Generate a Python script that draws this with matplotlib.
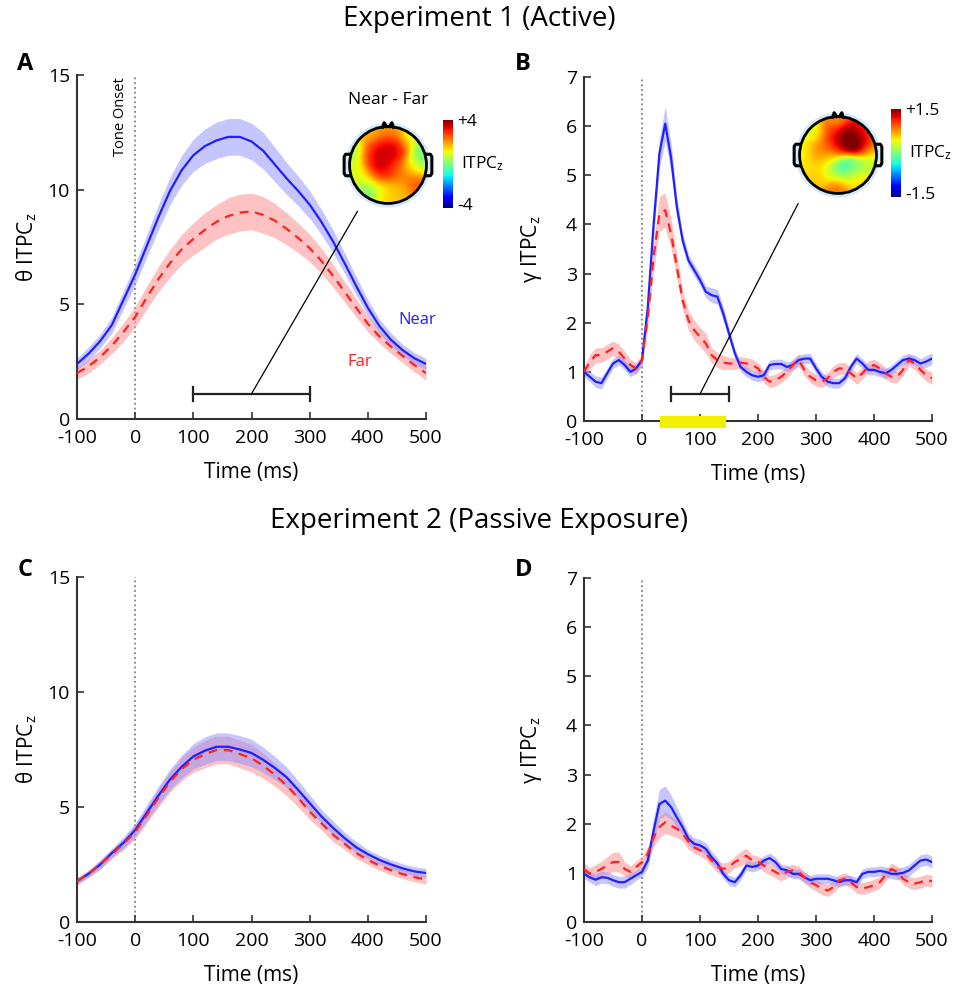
import numpy as np
import matplotlib
matplotlib.use("Agg")
import matplotlib.pyplot as plt
from matplotlib.patches import Circle, Rectangle

plt.rcParams["font.family"] = ["Open Sans", "DejaVu Sans"]
plt.rcParams["mathtext.fontset"] = "custom"
plt.rcParams["mathtext.rm"] = "Open Sans"
plt.rcParams["mathtext.it"] = "Open Sans"
plt.rcParams["axes.unicode_minus"] = False

# ── data ──────────────────────────────────────────────────────────────────────
t_theta = np.arange(-100, 501, 20)
t_gamma = np.arange(-100, 501, 10)

# panel A (theta, active)
a_near = [2.4, 2.85, 3.4, 4.1, 5.2, 6.3, 7.55, 8.8, 9.95, 10.85, 11.5, 11.9, 12.15, 12.3, 12.3, 12.1,
          11.7, 11.1, 10.5, 9.95, 9.35, 8.6, 7.75, 6.8, 5.8, 4.85, 4.05, 3.45, 3.0, 2.65, 2.4]
a_near_sem = [0.25, 0.3, 0.3, 0.35, 0.4, 0.45, 0.5, 0.55, 0.6, 0.65, 0.7, 0.75, 0.8, 0.8, 0.8, 0.8,
              0.8, 0.75, 0.7, 0.65, 0.6, 0.55, 0.5, 0.45, 0.4, 0.35, 0.3, 0.3, 0.25, 0.25, 0.25]
a_far = [2.0, 2.3, 2.7, 3.2, 3.8, 4.45, 5.3, 6.1, 6.8, 7.4, 7.85, 8.25, 8.6, 8.85, 9.0, 9.05,
         8.9, 8.65, 8.3, 7.9, 7.45, 6.9, 6.25, 5.55, 4.85, 4.15, 3.6, 3.15, 2.75, 2.35, 2.0]
a_far_sem = [0.25, 0.3, 0.3, 0.35, 0.4, 0.45, 0.5, 0.55, 0.6, 0.65, 0.7, 0.75, 0.75, 0.8, 0.8, 0.8,
             0.8, 0.75, 0.7, 0.65, 0.6, 0.55, 0.5, 0.45, 0.4, 0.35, 0.3, 0.3, 0.3, 0.3, 0.3]

# panel C (theta, passive)
c_near = [1.77, 2.1, 2.5, 3.0, 3.45, 4.0, 4.75, 5.5, 6.2, 6.75, 7.2, 7.45, 7.62, 7.62, 7.5, 7.35,
          7.05, 6.7, 6.3, 5.75, 5.17, 4.6, 4.1, 3.65, 3.25, 2.95, 2.7, 2.5, 2.33, 2.2, 2.13]
c_near_sem = [0.15, 0.15, 0.2, 0.2, 0.25, 0.3, 0.35, 0.4, 0.45, 0.5, 0.55, 0.6, 0.6, 0.6, 0.6, 0.6,
              0.55, 0.5, 0.45, 0.4, 0.35, 0.3, 0.3, 0.25, 0.25, 0.2, 0.2, 0.2, 0.2, 0.2, 0.2]
c_far = [1.77, 2.1, 2.5, 2.95, 3.4, 3.92, 4.65, 5.4, 6.1, 6.65, 7.06, 7.3, 7.48, 7.48, 7.3, 7.12,
         6.8, 6.4, 5.95, 5.4, 4.8, 4.3, 3.8, 3.4, 3.0, 2.7, 2.45, 2.25, 2.08, 1.95, 1.84]
c_far_sem = [0.15, 0.15, 0.2, 0.2, 0.25, 0.3, 0.35, 0.4, 0.45, 0.5, 0.55, 0.6, 0.6, 0.6, 0.6, 0.6,
             0.55, 0.5, 0.45, 0.4, 0.35, 0.3, 0.3, 0.25, 0.25, 0.2, 0.2, 0.2, 0.2, 0.2, 0.2]

# panel B (gamma, active)
b_near = [1.0, 0.9, 0.8, 0.77, 0.97, 1.17, 1.24, 1.14, 1.0, 1.07,
          1.24, 2.32, 4.0, 5.44, 6.05, 5.37, 4.36, 3.68, 3.27, 3.07,
          2.87, 2.63, 2.56, 2.53, 2.19, 1.78, 1.38, 1.1, 1.0, 0.93,
          0.9, 0.93, 1.14, 1.16, 1.16, 1.1, 1.14, 1.24, 1.27, 1.27,
          1.07, 0.9, 0.8, 0.77, 0.77, 0.87, 1.1, 1.27, 1.17, 1.04,
          1.04, 1.0, 0.97, 1.04, 1.14, 1.24, 1.27, 1.24, 1.17, 1.21, 1.27]
b_near_sem = [0.1, 0.1, 0.12, 0.12, 0.1, 0.1, 0.1, 0.1, 0.1, 0.1,
              0.1, 0.15, 0.25, 0.3, 0.35, 0.3, 0.2, 0.15, 0.12, 0.12,
              0.12, 0.12, 0.15, 0.15, 0.15, 0.12, 0.1, 0.1, 0.1, 0.1,
              0.1, 0.1, 0.1, 0.1, 0.1, 0.1, 0.1, 0.1, 0.1, 0.1,
              0.1, 0.1, 0.1, 0.1, 0.1, 0.1, 0.1, 0.1, 0.1, 0.1,
              0.1, 0.1, 0.1, 0.1, 0.1, 0.1, 0.1, 0.1, 0.1, 0.12, 0.12]
b_far = [1.0, 1.2, 1.34, 1.34, 1.41, 1.48, 1.41, 1.27, 1.14, 1.07,
         1.24, 2.12, 3.34, 4.22, 4.29, 3.81, 3.14, 2.46, 2.05, 1.85,
         1.71, 1.58, 1.34, 1.24, 1.19, 1.17, 1.17, 1.19, 1.17, 1.14,
         1.07, 0.9, 0.8, 0.83, 0.9, 1.0, 1.14, 1.24, 1.04, 0.9,
         0.83, 0.8, 0.87, 1.0, 1.07, 1.07, 0.97, 0.87, 0.97, 1.1,
         1.14, 1.07, 0.97, 0.9, 0.9, 1.04, 1.24, 1.17, 1.04, 0.93, 0.87]
b_far_sem = [0.12, 0.15, 0.15, 0.15, 0.15, 0.15, 0.15, 0.15, 0.12, 0.12,
             0.12, 0.2, 0.3, 0.35, 0.35, 0.3, 0.25, 0.2, 0.2, 0.2,
             0.2, 0.2, 0.15, 0.15, 0.15, 0.12, 0.12, 0.12, 0.12, 0.12,
             0.12, 0.12, 0.12, 0.12, 0.12, 0.12, 0.12, 0.12, 0.12, 0.12,
             0.12, 0.12, 0.12, 0.12, 0.12, 0.12, 0.12, 0.12, 0.12, 0.12,
             0.12, 0.12, 0.12, 0.12, 0.12, 0.12, 0.12, 0.12, 0.12, 0.12, 0.12]

# panel D (gamma, passive)
d_near = [0.98, 0.91, 0.86, 0.91, 0.9, 0.85, 0.81, 0.81, 0.88, 0.95,
          1.02, 1.25, 1.86, 2.4, 2.47, 2.34, 2.13, 1.93, 1.69, 1.59,
          1.56, 1.49, 1.32, 1.19, 0.98, 0.85, 0.81, 0.95, 1.15, 1.12,
          1.15, 1.25, 1.3, 1.22, 1.08, 1.05, 0.98, 0.98, 0.91, 0.85,
          0.88, 0.88, 0.88, 0.85, 0.81, 0.85, 0.85, 0.81, 0.98, 1.02,
          1.02, 1.04, 1.02, 0.98, 0.98, 1.0, 1.05, 1.15, 1.25, 1.27, 1.22]
d_near_sem = [0.1, 0.1, 0.12, 0.12, 0.12, 0.12, 0.12, 0.12, 0.12, 0.1,
              0.1, 0.15, 0.25, 0.3, 0.3, 0.25, 0.2, 0.15, 0.12, 0.12,
              0.12, 0.12, 0.12, 0.12, 0.1, 0.1, 0.1, 0.1, 0.1, 0.1,
              0.1, 0.1, 0.1, 0.1, 0.1, 0.1, 0.1, 0.1, 0.1, 0.1,
              0.1, 0.1, 0.1, 0.1, 0.1, 0.1, 0.1, 0.1, 0.1, 0.1,
              0.1, 0.1, 0.1, 0.1, 0.12, 0.12, 0.12, 0.12, 0.12, 0.12, 0.12]
d_far = [1.08, 0.98, 1.02, 1.08, 1.15, 1.22, 1.22, 1.08, 1.02, 1.12,
         1.22, 1.39, 1.73, 1.93, 2.03, 1.96, 1.9, 1.8, 1.63, 1.52,
         1.46, 1.39, 1.25, 1.13, 1.08, 1.12, 1.22, 1.29, 1.35, 1.25,
         1.22, 1.15, 1.08, 1.02, 0.95, 1.02, 1.05, 1.02, 0.91, 0.81,
         0.75, 0.68, 0.64, 0.71, 0.85, 0.88, 0.81, 0.71, 0.68, 0.71,
         0.75, 0.81, 0.95, 1.08, 1.02, 0.88, 0.81, 0.78, 0.81, 0.85, 0.83]
d_far_sem = [0.12, 0.12, 0.15, 0.15, 0.18, 0.2, 0.2, 0.15, 0.12, 0.12,
             0.12, 0.15, 0.2, 0.22, 0.22, 0.2, 0.18, 0.15, 0.15, 0.12,
             0.12, 0.12, 0.12, 0.12, 0.12, 0.12, 0.12, 0.15, 0.15, 0.12,
             0.12, 0.12, 0.12, 0.12, 0.12, 0.12, 0.12, 0.12, 0.12, 0.12,
             0.12, 0.12, 0.12, 0.12, 0.12, 0.12, 0.12, 0.12, 0.12, 0.12,
             0.12, 0.12, 0.12, 0.12, 0.12, 0.12, 0.12, 0.12, 0.12, 0.12, 0.12]

# topomap electrode values (Near - Far)
topo_a_x = [-0.3, 0.0, 0.3, -0.3, 0.05, -0.3, 0.2, -0.5, 0.0, -0.45, 0.55, 0.85, 0.72, 0.65,
            0.3, -0.85, -0.85, -0.45, -0.65, 0.0, -0.2, 0.45]
topo_a_y = [0.4, 0.45, 0.4, 0.0, 0.05, -0.35, -0.2, 0.2, 0.85, 0.7, 0.65, 0.3, 0.0, -0.45,
            -0.6, 0.3, -0.1, -0.62, -0.35, -0.85, -0.7, -0.1]
topo_a_v = [3.6, 3.5, 3.3, 3.6, 3.4, 3.2, 2.6, 2.9, 2.0, 1.6, 0.9, -0.3, 0.6, 2.6,
            1.6, 0.2, 0.9, -0.7, 1.0, 1.6, 1.2, 1.8]

topo_b_x = [0.3, 0.05, 0.55, 0.3, -0.2, 0.6, 0.8, 0.0, -0.35, -0.6, -0.65, -0.88, -0.25, 0.12,
            0.45, -0.15, 0.3, 0.0, -0.5, 0.55, 0.85, 0.0, -0.75]
topo_b_y = [0.35, 0.4, 0.3, 0.6, 0.55, 0.6, 0.2, 0.15, 0.15, 0.05, 0.55, 0.05, -0.15, -0.31,
            -0.3, -0.4, -0.55, -0.85, -0.55, -0.7, -0.2, 0.9, -0.35]
topo_b_v = [1.9, 1.5, 1.7, 1.4, 1.0, 1.0, 0.7, 1.1, 0.9, 0.8, 0.35, 0.35, 0.5, -0.6,
            0.0, 0.2, 0.3, 0.9, 0.6, 0.6, 0.25, 0.7, 0.5]

BLUE = "#1f1fff"
RED = "#ff2020"
W, H = 958, 989


def px_axes(fig, l, t, r, b):
    return fig.add_axes([l / W, 1 - b / H, (r - l) / W, (b - t) / H])


def style(ax, ymax, yticks):
    for s in ("top", "right"):
        ax.spines[s].set_visible(False)
    for s in ("left", "bottom"):
        ax.spines[s].set_linewidth(1.5)
        ax.spines[s].set_color("#333333")
    ax.set_xlim(-100, 500)
    ax.set_ylim(0, ymax)
    ax.set_xticks(range(-100, 501, 100))
    ax.set_yticks(yticks)
    ax.tick_params(direction="in", length=5, width=1.2, labelsize=14, colors="#333333",
                   labelcolor="black")
    ax.tick_params(axis="x", pad=7)
    ax.tick_params(axis="y", pad=5)
    ax.axvline(0, color="gray", linestyle=":", linewidth=1.3, zorder=1)
    ax.set_xlabel("Time (ms)", fontsize=15)
    ax.xaxis.set_label_coords(0.5, -0.125)


def draw_pair(ax, t, near, near_sem, far, far_sem):
    near, near_sem = np.asarray(near), np.asarray(near_sem)
    far, far_sem = np.asarray(far), np.asarray(far_sem)
    ax.fill_between(t, far - far_sem, far + far_sem, color="#ff9a9a", alpha=0.6, lw=0, zorder=2)
    ax.fill_between(t, near - near_sem, near + near_sem, color="#8f8fff", alpha=0.5, lw=0, zorder=2)
    ax.plot(t, near, color=BLUE, lw=1.6, zorder=4)
    ax.plot(t, far, color=RED, lw=1.6, ls=(0, (4, 3)), zorder=5)


def topomap(fig, l, t, xs, ys, vs, vmax, sigma):
    ax = px_axes(fig, l, t, l + 100, t + 100)
    ax.set_xlim(-1.3, 1.3)
    ax.set_ylim(-1.3, 1.3)
    ax.axis("off")
    g = np.linspace(-1.05, 1.05, 200)
    gx, gy = np.meshgrid(g, g)
    xs, ys, vs = np.asarray(xs), np.asarray(ys), np.asarray(vs)
    d2 = (gx[..., None] - xs) ** 2 + (gy[..., None] - ys) ** 2
    w = np.exp(-d2 / (2 * sigma ** 2))
    z = (w * vs).sum(-1) / w.sum(-1)
    im = ax.imshow(z, extent=(-1.05, 1.05, -1.05, 1.05), origin="lower", cmap="jet",
                   vmin=-vmax, vmax=vmax, interpolation="bilinear")
    im.set_clip_path(Circle((0, 0), 1.0, transform=ax.transData))
    ax.add_patch(Circle((0, 0), 1.05, fill=False, ec="#d4e9f7", lw=3, zorder=2))
    ax.add_patch(Circle((0, 0), 1.0, fill=False, ec="black", lw=2, zorder=3))
    # nose
    ax.plot([-0.14, -0.1, -0.04], [0.98, 1.1, 1.0], color="black", lw=2.2, zorder=3)
    ax.plot([0.04, 0.1, 0.14], [1.0, 1.1, 0.98], color="black", lw=2.2, zorder=3)
    # ears
    for sgn in (-1, 1):
        ex = [sgn * 0.98, sgn * 1.1, sgn * 1.14, sgn * 1.14, sgn * 1.1, sgn * 0.98]
        ey = [0.28, 0.28, 0.22, -0.22, -0.28, -0.28]
        ax.plot(ex, ey, color="black", lw=2.2, zorder=3)
    return im


def colorbar(fig, im, l, t, b, lo, hi, fs=12.5):
    cax = px_axes(fig, l, t, l + 10, b)
    cb = fig.colorbar(im, cax=cax, ticks=[])
    cb.outline.set_visible(False)
    x = (l + 14) / W
    fig.text(x, 1 - (t + 2) / H, hi, fontsize=fs, ha="left", va="center")
    fig.text(x, 1 - (b - 2) / H, lo, fontsize=fs, ha="left", va="center")
    fig.text(x + 0.004, 1 - ((t + b) / 2) / H, r"ITPC$_\mathrm{z}$", fontsize=fs, ha="left", va="center")


fig = plt.figure(figsize=(W / 100, H / 100), dpi=100)

fig.text(479 / W, 1 - 19 / H, "Experiment 1 (Active)", fontsize=20, ha="center", va="center")
fig.text(479 / W, 1 - 521 / H, "Experiment 2 (Passive Exposure)", fontsize=20, ha="center", va="center")
for lab, x, y in (("A", 25, 64), ("B", 523, 64), ("C", 25, 570), ("D", 524, 570)):
    fig.text(x / W, 1 - y / H, lab, fontsize=17, fontweight="bold", ha="center", va="center")

# ── A ──
axA = px_axes(fig, 77, 75, 426, 419)
style(axA, 15, [0, 5, 10, 15])
draw_pair(axA, t_theta, a_near, a_near_sem, a_far, a_far_sem)
axA.set_ylabel(r"θ ITPC$_\mathrm{z}$", fontsize=15)
axA.yaxis.set_label_coords(-0.11, 0.5)
axA.text(-12, 14.9, "Tone Onset", rotation=90, fontsize=10.5, ha="right", va="top")
axA.text(485, 4.3, "Near", color=BLUE, fontsize=12, ha="center", va="center")
axA.text(386, 2.5, "Far", color=RED, fontsize=12, ha="center", va="center")
axA.plot([100, 300], [1.1, 1.1], color="#222222", lw=1.6)
axA.plot([100, 100], [0.8, 1.4], color="#222222", lw=1.6)
axA.plot([300, 300], [0.8, 1.4], color="#222222", lw=1.6)
axA.plot([200, 382], [1.1, 9.05], color="black", lw=0.9, zorder=6)

# ── B ──
axB = px_axes(fig, 584, 77, 932, 421)
style(axB, 7, range(0, 8))
draw_pair(axB, t_gamma, b_near, b_near_sem, b_far, b_far_sem)
axB.set_ylabel(r"γ ITPC$_\mathrm{z}$", fontsize=15)
axB.yaxis.set_label_coords(-0.115, 0.5)
axB.add_patch(Rectangle((31, -0.15), 113, 0.25, color="#f2ef00", clip_on=False, zorder=7, lw=0))
axB.plot([50, 150], [0.55, 0.55], color="#222222", lw=1.6)
axB.plot([50, 50], [0.4, 0.7], color="#222222", lw=1.6)
axB.plot([150, 150], [0.4, 0.7], color="#222222", lw=1.6)
axB.plot([100, 269], [0.55, 4.42], color="black", lw=0.9, zorder=6)

# ── C ──
axC = px_axes(fig, 77, 577, 426, 922)
style(axC, 15, [0, 5, 10, 15])
draw_pair(axC, t_theta, c_near, c_near_sem, c_far, c_far_sem)
axC.set_ylabel(r"θ ITPC$_\mathrm{z}$", fontsize=15)
axC.yaxis.set_label_coords(-0.11, 0.5)

# ── D ──
axD = px_axes(fig, 584, 578, 932, 922)
style(axD, 7, range(0, 8))
draw_pair(axD, t_gamma, d_near, d_near_sem, d_far, d_far_sem)
axD.set_ylabel(r"γ ITPC$_\mathrm{z}$", fontsize=15)
axD.yaxis.set_label_coords(-0.115, 0.5)

# ── topomaps ──
fig.text(388 / W, 1 - 100 / H, "Near - Far", fontsize=12.5, ha="center", va="center")
imA = topomap(fig, 338, 115, topo_a_x, topo_a_y, topo_a_v, 4, 0.2)
colorbar(fig, imA, 443, 120, 208, "-4", "+4")
imB = topomap(fig, 788, 105, topo_b_x, topo_b_y, topo_b_v, 1.5, 0.2)
colorbar(fig, imB, 891, 109, 197, "-1.5", "+1.5")

fig.savefig("out.png", dpi=100, facecolor="white")
